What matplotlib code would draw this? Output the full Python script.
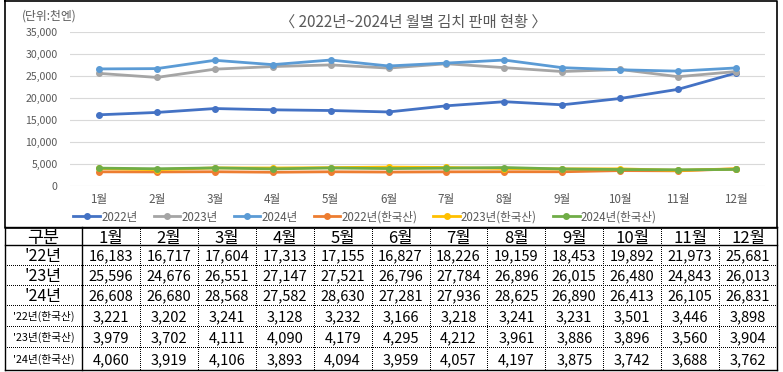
import matplotlib
matplotlib.use('Agg')
import matplotlib.pyplot as plt
import numpy as np

plt.rcParams['font.family'] = ['Noto Sans CJK KR', 'DejaVu Sans']

months = ['1월', '2월', '3월', '4월', '5월', '6월', '7월', '8월', '9월', '10월', '11월', '12월']
s2022 = [16183, 16717, 17604, 17313, 17155, 16827, 18226, 19159, 18453, 19892, 21973, 25681]
s2023 = [25596, 24676, 26551, 27147, 27521, 26796, 27784, 26896, 26015, 26480, 24843, 26013]
s2024 = [26608, 26680, 28568, 27582, 28630, 27281, 27936, 28625, 26890, 26413, 26105, 26831]
k2022 = [3221, 3202, 3241, 3128, 3232, 3166, 3218, 3241, 3231, 3501, 3446, 3898]
k2023 = [3979, 3702, 4111, 4090, 4179, 4295, 4212, 3961, 3886, 3896, 3560, 3904]
k2024 = [4060, 3919, 4106, 3893, 4094, 3959, 4057, 4197, 3875, 3742, 3688, 3762]

series_names = ['2022년', '2023년', '2024년', '2022년(한국산)', '2023년(한국산)', '2024년(한국산)']
row_labels = ["'22년", "'23년", "'24년", "'22년(한국산)", "'23년(한국산)", "'24년(한국산)"]
colors = ['#4472C4', '#A5A5A5', '#5B9BD5', '#ED7D31', '#FFC000', '#70AD47']
all_series = [s2022, s2023, s2024, k2022, k2023, k2024]

W, H = 783, 372
fig = plt.figure(figsize=(W / 100, H / 100), dpi=100)

# background axes in pixel coords for frames and the table
bg = fig.add_axes([0, 0, 1, 1])
bg.set_xlim(0, W)
bg.set_ylim(H, 0)
bg.axis('off')

# chart frame
bg.plot([5, 777, 777, 5, 5], [1, 1, 228, 228, 1], color='black', lw=1.2)

# line chart
ax = fig.add_axes([70 / W, 1 - 186 / H, (765 - 70) / W, (186 - 32) / H])
ax.patch.set_alpha(0)
x = np.arange(len(months))
for vals, name, c in zip(all_series, series_names, colors):
    ax.plot(x, vals, color=c, lw=2, marker='o', ms=4, label=name)
ax.set_xlim(-0.5, 11.5)
ax.set_ylim(0, 35000)
ax.set_yticks(np.arange(0, 35001, 5000))
ax.set_yticklabels(['0' if v == 0 else f'{v:,}' for v in range(0, 35001, 5000)])
ax.set_xticks(x)
ax.set_xticklabels(months)
ax.grid(axis='y', color='#D9D9D9', lw=0.8)
ax.set_axisbelow(True)
for sp in ax.spines.values():
    sp.set_visible(False)
ax.tick_params(length=0, labelsize=7.6, colors='#595959', pad=9)
ax.tick_params(axis='x', labelsize=8.4, pad=5)

fig.text(413 / W, 1 - 20 / H, '〈 2022년~2024년 월별 김치 판매 현황 〉', ha='center', va='center_baseline',
         fontsize=11, color='#595959')
fig.text(22 / W, 1 - 15 / H, '(단위:천엔)', ha='left', va='center_baseline', fontsize=8.5, color='#595959')

fig.legend(loc='center', bbox_to_anchor=(365 / W, 1 - 217 / H), ncol=6, frameon=False,
           fontsize=8.3, labelcolor='#595959', handlelength=2.3, handletextpad=0.1,
           columnspacing=1.4)

# table
col_edges = [5, 82] + [82 + (777 - 82) * (i + 1) / 12 for i in range(12)]
row_edges = [227, 245, 265, 285, 305, 326, 347, 370]
dot = (0, (1, 1.2))
for i, yy in enumerate(row_edges):
    solid = i in (0, 1, len(row_edges) - 1)
    bg.plot([col_edges[0], col_edges[-1]], [yy, yy], color='black',
            lw=1 if solid else 0.72, ls='-' if solid else dot, antialiased=solid)
for j, xx in enumerate(col_edges):
    solid = j in (0, 1, len(col_edges) - 1)
    bg.plot([xx, xx], [row_edges[0], row_edges[-1]], color='black',
            lw=1 if solid else 0.72, ls='-' if solid else dot, antialiased=solid)

headers = ['구분'] + months
for j, h in enumerate(headers):
    cx = (col_edges[j] + col_edges[j + 1]) / 2
    cy = (row_edges[0] + row_edges[1]) / 2
    bg.text(cx, cy, h, ha='center', va='center_baseline', fontsize=12.5 if j == 0 else 12, color='black')

for r, (lab, vals) in enumerate(zip(row_labels, all_series)):
    cy = (row_edges[r + 1] + row_edges[r + 2]) / 2
    bg.text((col_edges[0] + col_edges[1]) / 2, cy, lab, ha='center', va='center_baseline',
            fontsize=11.5 if r < 3 else 7.7, color='black')
    for j, v in enumerate(vals):
        cx = (col_edges[j + 1] + col_edges[j + 2]) / 2
        bg.text(cx, cy, f'{v:,}', ha='center', va='center_baseline', fontsize=10.5, color='black')

fig.savefig('out.png', dpi=100)
